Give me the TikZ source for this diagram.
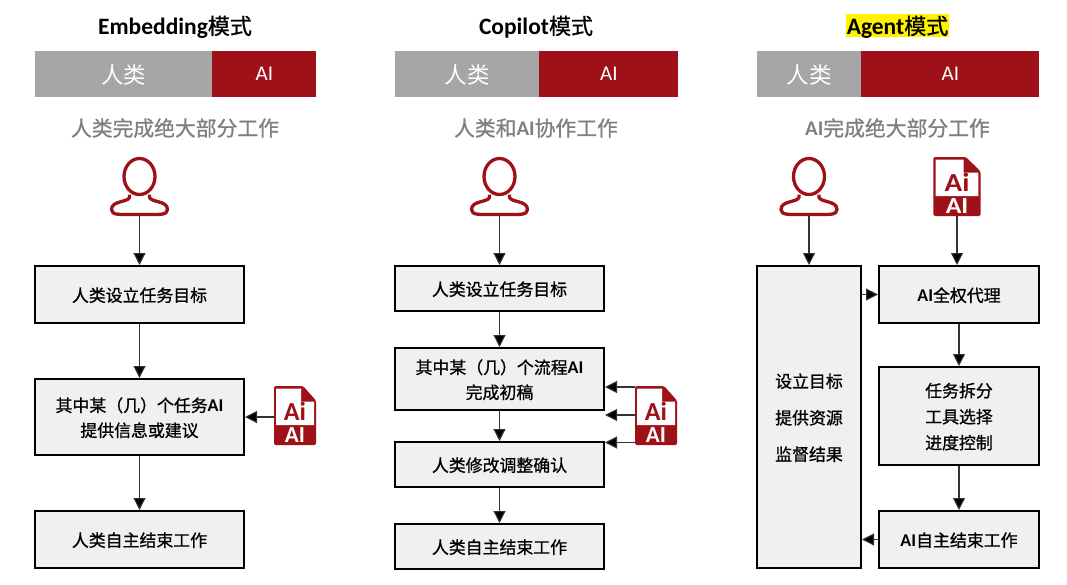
\documentclass[tikz,border=0pt]{standalone}
\usepackage{fontspec}
\usepackage{xcolor}
\setmainfont{Noto Sans CJK SC}
\newfontfamily\lat{Carlito}
\newfontfamily\medium[FakeBold=0.9]{Noto Sans CJK SC}
\usetikzlibrary{positioning}
\usetikzlibrary{arrows.meta}
\definecolor{darkred}{HTML}{9E1118}
\definecolor{midgray}{HTML}{A6A6A6}
\definecolor{subgray}{HTML}{7F7F7F}
\definecolor{boxgray}{HTML}{F0F0F0}
\newcommand{\ai}[1]{{\lat\bfseries\fontsize{18}{25}\selectfont #1}}
\tikzset{
title/.style={font=\fontsize{22}{26}\selectfont\medium, inner sep=0pt, text depth=0pt},
subtitle/.style={font=\fontsize{20.8}{26}\selectfont\medium, text=subgray, inner sep=0pt},
barpart/.style 2 args={fill=#2, text=white, minimum width=#1, minimum height=46pt, inner sep=0pt, text depth=0pt, font=\fontsize{22.5}{26}\selectfont},
flowbox/.style 2 args={draw, line width=2pt, fill=boxgray, minimum width=#1, minimum height=#2, inner sep=0pt, text depth=0pt, align=center, font=\fontsize{16.9}{25}\selectfont\medium},
link/.style={draw=black!80, line width=1.1pt, -{Triangle[length=12pt,width=12pt,fill=black]}},
person/.pic={
	\node[minimum width=58pt, minimum height=59pt, inner sep=0pt] (-box) at (0,0) {};
	\draw[darkred, line width=3.3pt] (0,-10) ellipse [x radius=15.5pt, y radius=18pt];
	\draw[darkred, line width=3.3pt, line join=round] (-10,8) -- (-10,11) .. controls (-12,16) and (-28,14) .. (-28,23) .. controls (-28,29) and (-20,28) .. (0,28) .. controls (20,28) and (28,29) .. (28,23) .. controls (28,14) and (12,16) .. (10,11) -- (10,8);
},
aifile/.pic={
	\node[minimum width=42pt, minimum height=59pt, inner sep=0pt] (-box) at (0,0) {};
	\fill[darkred, rounded corners=1.5pt] (-21,-29.5) -- (8,-29.5) -- (21,-15) -- (21,29.5) -- (-21,29.5) -- cycle;
	\fill[white] (-19,-27) -- (6,-27) -- (6,-14) -- (19,-14) -- (19,9.5) -- (-19,9.5) -- cycle;
	\node[text=darkred, inner sep=0pt, font=\fontsize{26}{28}\selectfont\lat\bfseries, transform shape] at (0,-4) {Ai};
	\node[text=white, inner sep=0pt, font=\fontsize{23}{24}\selectfont\lat\bfseries, transform shape] at (0,19.5) {AI};
},
}
\begin{document}
\begin{tikzpicture}[x=1pt,y=-1pt]
\useasboundingbox (0,0) rectangle (1067,584);

%
\node[title] (t1) at (175,25) {{\lat\bfseries\fontsize{23.5}{26}\selectfont Embedding}模式};
\node[title] (t2) at (536,25) {{\lat\bfseries\fontsize{23.5}{26}\selectfont Copilot}模式};
\node[title, fill=yellow, minimum width=103pt, minimum height=23pt] (t3) at (897.5,25) {{\lat\bfseries\fontsize{23.5}{26}\selectfont Agent}模式};

%
\node[barpart={177pt}{midgray}] (h1) at (123.5,74) {人类};
\node[barpart={104pt}{darkred}, right=0pt of h1] (a1) {\lat\fontsize{21}{24}\selectfont AI};
\node[barpart={144pt}{midgray}] (h2) at (467,74) {人类};
\node[barpart={139pt}{darkred}, right=0pt of h2] (a2) {\lat\fontsize{21}{24}\selectfont AI};
\node[barpart={104pt}{midgray}] (h3) at (809,74) {人类};
\node[barpart={178pt}{darkred}, right=0pt of h3] (a3) {\lat\fontsize{21}{24}\selectfont AI};

%
\node[subtitle] (s1) at (175,128) {人类完成绝大部分工作};
\node[subtitle] (s2) at (536,128) {人类和{\lat\bfseries AI}协作工作};
\node[subtitle] (s3) at (897.5,128) {{\lat\bfseries AI}完成绝大部分工作};

%
\pic (p1) at (139.5,186.5) {person};
\pic (p2) at (499.5,186.5) {person};
\pic (p3) at (809,186.5) {person};
\pic (f1) at (295,415.5) {aifile};
\pic (f2) at (656,415.5) {aifile};
\pic[xscale=1.12] (f3) at (957,186.5) {aifile};

%
\node[flowbox={209pt}{57pt}] (b11) at (139.5,294.5) {人类设立任务目标};
\node[flowbox={209pt}{76pt}] (b12) at (139.5,417) {其中某（几）个任务\ai{AI}\\提供信息或建议};
\node[flowbox={209pt}{57pt}] (b13) at (139.5,539.5) {人类自主结束工作};

\node[flowbox={209pt}{45pt}] (b21) at (499.5,288.5) {人类设立任务目标};
\node[flowbox={209pt}{62pt}] (b22) at (499.5,379) {其中某（几）个流程\ai{AI}\\完成初稿};
\node[flowbox={209pt}{45pt}] (b23) at (499.5,464.5) {人类修改调整确认};
\node[flowbox={209pt}{45pt}] (b24) at (499.5,546.5) {人类自主结束工作};

\node[flowbox={104pt}{302pt}] (b30) at (809,417) {设立目标\\[11.5pt]提供资源\\[11.5pt]监督结果};
\node[flowbox={160pt}{57pt}] (b31) at (959,294.5) {\ai{AI}全权代理};
\node[flowbox={160pt}{98pt}] (b32) at (959,416) {任务拆分\\[1pt]工具选择\\[1pt]进度控制};
\node[flowbox={160pt}{57pt}] (b33) at (959,539.5) {\ai{AI}自主结束工作};

%
\coordinate (c1) at (635,387);
\coordinate (c2) at (635,415);
\coordinate (c3) at (635,442.5);
\coordinate (c4) at (861,294.5);
\coordinate (c5) at (879,539.5);

%
\draw[link] (p1-box) to (b11);
\draw[link] (b11) to (b12);
\draw[link] (f1-box.west |- b12) to (b12);
\draw[link] (b12) to (b13);

\draw[link] (p2-box) to (b21);
\draw[link] (b21) to (b22);
\draw[link] (b22) to (b23);
\draw[link] (b23) to (b24);
\draw[link] (c1) to (b22.east |- c1);
\draw[link] (c2) to (b22.east |- c2);
\draw[link] (c3) to (b22.east |- c3);

\draw[link] (p3-box) to (b30.north);
\draw[link] (f3-box) to (f3-box |- b31.north);
\draw[link] (c4) to (b31.west |- c4);
\draw[link] (b31) to (b32);
\draw[link] (b32) to (b33);
\draw[link] (c5) to (b30.east |- c5);
\end{tikzpicture}
\end{document}
